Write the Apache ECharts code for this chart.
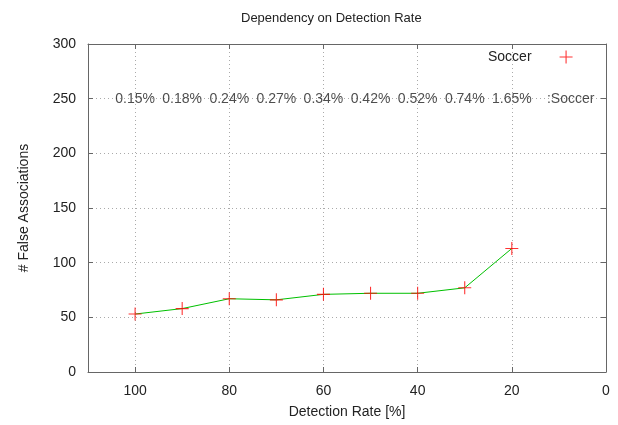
<!DOCTYPE html>
<html><head><meta charset="utf-8">
<script src="https://cdn.jsdelivr.net/npm/echarts@6/dist/echarts.min.js"></script>
<style>html,body{margin:0;padding:0;background:#fff}#c{width:618px;height:425px}</style>
</head><body><div id="c"></div>
<script>
const detectionRate = [100, 90, 80, 70, 60, 50, 40, 30, 20];
const falseAssoc = [53, 58, 67, 66, 71, 72, 72, 77, 113];
const rateLabelX = [100, 90, 80, 70, 60, 50, 40, 30, 20, 7.5];
const rateLabelY = 250;
const rateLabels = ['0.15%', '0.18%', '0.24%', '0.27%', '0.34%', '0.42%', '0.52%', '0.74%', '1.65%', ':Soccer'];

const FONT = 'Liberation Sans, Arial, sans-serif';
const TXT = '#222';
const plus = 'path://M5.5,0h1v5.5h5.5v1h-5.5v5.5h-1v-5.5h-5.5v-1h5.5z';

const chart = echarts.init(document.getElementById('c'), null, {renderer: 'canvas'});
const axisLine = {show: true, onZero: false, lineStyle: {color: '#666', width: 1}};
const tick = {show: true, inside: true, length: 5, lineStyle: {color: '#666'}};
const split = {show: true, lineStyle: {color: '#aaa', type: [1, 3], width: 1}};
chart.setOption({
  animation: false,
  backgroundColor: '#fff',
  title: {text: 'Dependency on Detection Rate', left: 236, top: 7,
    textStyle: {fontFamily: FONT, fontSize: 13, fontWeight: 'normal', color: TXT}},
  legend: {
    data: [{name: 'Soccer', icon: plus}],
    selectedMode: false, align: 'right', left: 483, top: 45,
    itemWidth: 13, itemHeight: 13, itemGap: 0,
    textStyle: {fontFamily: FONT, fontSize: 14, color: TXT, padding: [0, 23, 0, 0]}
  },
  grid: {left: 88, right: 12, top: 44, bottom: 53},
  xAxis: [{
    type: 'value', min: 0, max: 110, interval: 20, inverse: true,
    name: 'Detection Rate [%]', nameLocation: 'middle', nameGap: 33,
    nameTextStyle: {fontFamily: FONT, fontSize: 14, color: TXT},
    axisLine: axisLine, axisTick: tick,
    axisLabel: {fontFamily: FONT, fontSize: 14, color: TXT, margin: 12, showMaxLabel: false},
    splitLine: split
  }, {
    type: 'value', position: 'top', min: 0, max: 110, interval: 20, inverse: true,
    axisLine: axisLine, axisTick: tick,
    axisLabel: {show: false}, splitLine: {show: false}
  }],
  yAxis: [{
    type: 'value', min: 0, max: 300, interval: 50,
    name: '# False Associations', nameLocation: 'middle', nameGap: 57,
    nameTextStyle: {fontFamily: FONT, fontSize: 14, color: TXT},
    axisLine: axisLine, axisTick: tick,
    axisLabel: {fontFamily: FONT, fontSize: 14, color: TXT, margin: 12},
    splitLine: split
  }, {
    type: 'value', position: 'right', min: 0, max: 300, interval: 50,
    axisLine: axisLine, axisTick: tick,
    axisLabel: {show: false}, splitLine: {show: false}
  }],
  series: [{
    name: 'line', type: 'line',
    data: detectionRate.map((x, i) => [x, falseAssoc[i]]),
    symbol: 'none', lineStyle: {color: '#00c000', width: 1}, z: 2
  }, {
    name: 'Soccer', type: 'scatter',
    data: detectionRate.map((x, i) => [x, falseAssoc[i]]),
    symbol: plus, symbolSize: 13, itemStyle: {color: '#ff0000'}, z: 3
  }, {
    name: 'labels', type: 'scatter',
    data: rateLabelX.map((x, i) => [x, rateLabelY]),
    symbolSize: 0,
    label: {show: true, position: 'inside', formatter: p => rateLabels[p.dataIndex],
      fontFamily: FONT, fontSize: 14, color: TXT}
  }]
});
</script></body></html>
